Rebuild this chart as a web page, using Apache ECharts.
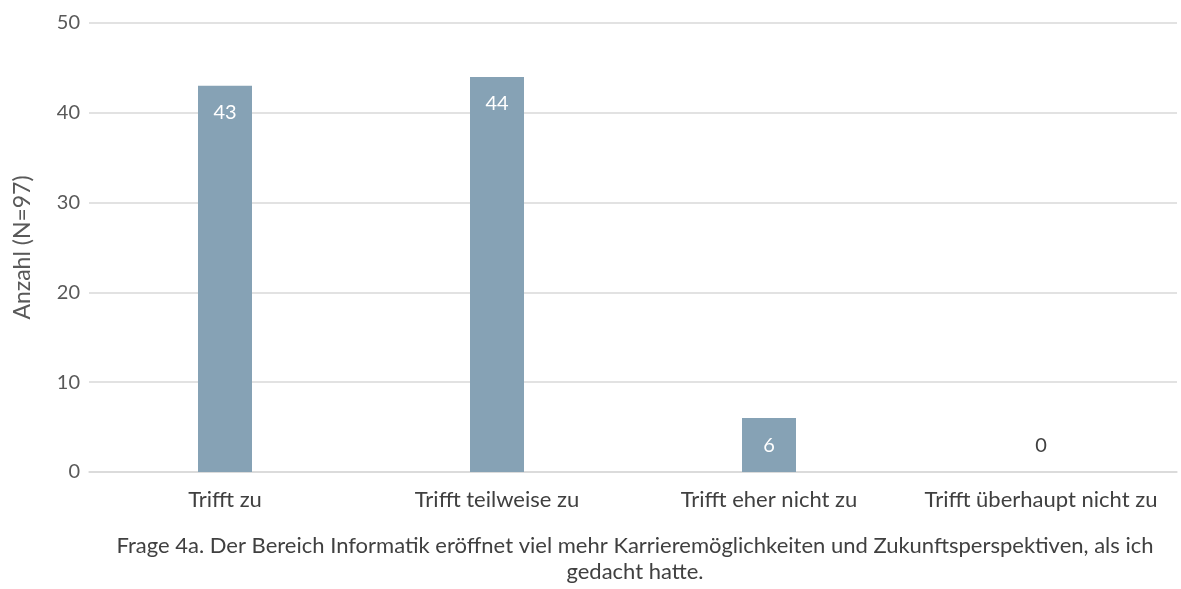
<!DOCTYPE html>
<html>
<head>
<meta charset="utf-8">
<script src="https://cdn.jsdelivr.net/npm/echarts@6/dist/echarts.min.js"></script>
<style>
  html, body { margin: 0; padding: 0; background: #fff; }
  #chart { width: 1181px; height: 589px; }
</style>
</head>
<body>
<div id="chart"></div>
<script>
const categories = ['Trifft zu', 'Trifft teilweise zu', 'Trifft eher nicht zu', 'Trifft überhaupt nicht zu'];
const counts = [43, 44, 6, 0];
const yTicks = [0, 10, 20, 30, 40, 50];
const axisName = 'Anzahl (N=97)';
const caption = 'Frage 4a. Der Bereich Informatik eröffnet viel mehr Karrieremöglichkeiten und Zukunftsperspektiven, als ich\ngedacht hatte.';

const FONT = 'Lato, "Open Sans", sans-serif';
const chart = echarts.init(document.getElementById('chart'), null, { renderer: 'canvas' });

chart.setOption({
  animation: false,
  backgroundColor: '#ffffff',
  grid: { left: 89, right: 4, top: 23, bottom: 117, containLabel: false, outerBoundsMode: 'none' },
  xAxis: {
    type: 'category',
    data: categories,
    axisLine: { show: true, lineStyle: { color: '#d9d9d9', width: 1.5 } },
    axisTick: { show: false },
    axisLabel: { color: '#404040', fontSize: 22, fontFamily: FONT, margin: 17, interval: 0, hideOverlap: false }
  },
  yAxis: {
    type: 'value',
    min: yTicks[0],
    max: yTicks[yTicks.length - 1],
    interval: yTicks[1] - yTicks[0],
    name: axisName,
    nameLocation: 'middle',
    nameGap: 55,
    nameTextStyle: { color: '#595959', fontSize: 23, fontFamily: FONT },
    axisLine: { show: false },
    axisTick: { show: false },
    axisLabel: { color: '#595959', fontSize: 20, fontFamily: FONT, margin: 9 },
    splitLine: { lineStyle: { color: '#d9d9d9', width: 1.5 } }
  },
  series: [{
    type: 'bar',
    data: counts.map(v => v === 0
      ? { value: v, label: { position: 'top', color: '#404040', distance: 16 } }
      : v),
    barWidth: 54,
    itemStyle: { color: '#86a2b5' },
    label: {
      show: true,
      position: 'insideTop',
      distance: 17,
      color: '#ffffff',
      fontSize: 20,
      fontFamily: FONT
    }
  }],
  graphic: [{
    type: 'text',
    x: 635,
    y: 533,
    style: {
      text: caption,
      fill: '#404040',
      font: '22px ' + FONT,
      textAlign: 'center',
      textVerticalAlign: 'top',
      lineHeight: 26
    }
  }]
});
</script>
</body>
</html>
